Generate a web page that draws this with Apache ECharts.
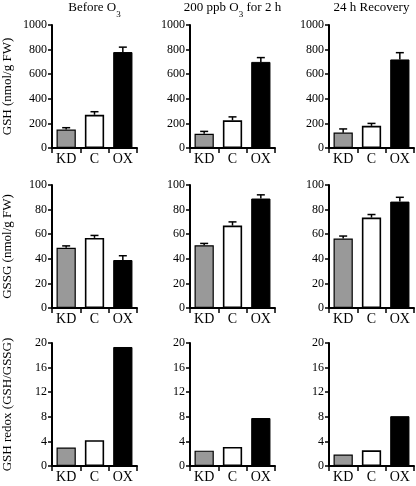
<!DOCTYPE html>
<html>
<head>
<meta charset="utf-8">
<script src="https://cdn.jsdelivr.net/npm/echarts@6/dist/echarts.min.js"></script>
<style>html,body{margin:0;padding:0;background:#fff}#c{width:416px;height:486px}</style>
</head>
<body>
<div id="c"></div>
<script>
// ---- data ----
const categories = ['KD', 'C', 'OX'];
const panelTitles = ['Before O{s|3}', '200 ppb O{s|3} for 2 h', '24 h Recovery'];
const rowNames = ['GSH (nmol/g FW)', 'GSSG (nmol/g FW)', 'GSH redox (GSH/GSSG)'];
// GSH (nmol/g FW), per panel: KD, C, OX
const gshBefore = [150, 270, 780];
const gshOzone = [115, 225, 700];
const gshRecovery = [125, 180, 720];
const gshErrBefore = [15, 25, 40];
const gshErrOzone = [20, 28, 35];
const gshErrRecovery = [30, 20, 55];
// GSSG (nmol/g FW)
const gssgBefore = [49, 57, 39];
const gssgOzone = [51, 67, 89];
const gssgRecovery = [56.5, 73.5, 86.5];
const gssgErrBefore = [1.5, 2, 3.5];
const gssgErrOzone = [1.5, 3, 3];
const gssgErrRecovery = [2, 2.5, 3.5];
// GSH redox (GSH/GSSG)
const redoxBefore = [3.0, 4.2, 19.35];
const redoxOzone = [2.5, 3.1, 7.8];
const redoxRecovery = [1.85, 2.55, 8.1];
// axis ranges
const yMax = [1000, 100, 20];
const yInterval = [200, 20, 4];

const rows = [
  {vals: [gshBefore, gshOzone, gshRecovery], errs: [gshErrBefore, gshErrOzone, gshErrRecovery]},
  {vals: [gssgBefore, gssgOzone, gssgRecovery], errs: [gssgErrBefore, gssgErrOzone, gssgErrRecovery]},
  {vals: [redoxBefore, redoxOzone, redoxRecovery], errs: null}
];

// ---- layout ----
const FONT = 'Liberation Serif';
const gridLeft = [52, 190, 329];
const gridTop = [25, 185, 343];
const gridW = 85, gridH = 123;
const barStyles = [
  {color: '#999999', borderColor: '#000', borderWidth: 1.2},
  {color: '#ffffff', borderColor: '#000', borderWidth: 1.6},
  {color: '#000000', borderColor: '#000', borderWidth: 1}
];

const grids = [], xAxes = [], yAxes = [], series = [], titles = [];
let gi = 0;
for (let r = 0; r < 3; r++) {
  for (let c = 0; c < 3; c++) {
    grids.push({left: gridLeft[c], top: gridTop[r], width: gridW, height: gridH});
    xAxes.push({
      type: 'category', gridIndex: gi, data: categories,
      axisLine: {lineStyle: {color: '#000', width: 2}},
      axisTick: {show: true, length: 5, lineStyle: {color: '#000', width: 1.5}},
      axisLabel: {interval: 0, hideOverlap: false, color: '#000', fontFamily: FONT, fontSize: 14, margin: 4,
        formatter: v => '{t|' + v + '}', rich: {t: {fontFamily: FONT, fontSize: 14, color: '#000'}}}
    });
    yAxes.push({
      type: 'value', gridIndex: gi, min: 0, max: yMax[r], interval: yInterval[r],
      splitLine: {show: false},
      axisLine: {show: true, lineStyle: {color: '#000', width: 2}},
      axisTick: {show: true, length: 4, lineStyle: {color: '#000', width: 1.5}},
      axisLabel: {color: '#000', fontFamily: FONT, fontSize: 12, margin: 5,
        formatter: v => '{t|' + v + '}', rich: {t: {fontFamily: FONT, fontSize: 12, color: '#000'}}},
      name: c === 0 ? rowNames[r] : '',
      nameLocation: 'middle', nameGap: 38,
      nameTextStyle: {color: '#000', fontFamily: FONT, fontSize: 13}
    });
    const vals = rows[r].vals[c];
    series.push({
      type: 'bar', xAxisIndex: gi, yAxisIndex: gi, barWidth: '68%',
      data: vals.map((v, i) => ({value: v, itemStyle: barStyles[i]})),
      silent: true, z: 2
    });
    if (rows[r].errs) {
      const errs = rows[r].errs[c];
      series.push({
        type: 'custom', xAxisIndex: gi, yAxisIndex: gi, z: 3, silent: true,
        data: vals.map((v, i) => [i, v, errs[i]]),
        renderItem: function (params, api) {
          const x = api.value(0), v = api.value(1), e = api.value(2);
          const p0 = api.coord([x, v]);
          const p1 = api.coord([x, v + e]);
          const hw = 4;
          return {
            type: 'group',
            children: [
              {type: 'line', shape: {x1: p0[0], y1: p0[1], x2: p1[0], y2: p1[1]}, style: {stroke: '#000', lineWidth: 1.5}},
              {type: 'line', shape: {x1: p1[0] - hw, y1: p1[1], x2: p1[0] + hw, y2: p1[1]}, style: {stroke: '#000', lineWidth: 1.5}}
            ]
          };
        }
      });
    }
    gi++;
  }
}
for (let c = 0; c < 3; c++) {
  titles.push({
    text: panelTitles[c],
    left: gridLeft[c] + gridW / 2, top: 0, textAlign: 'center',
    padding: 0,
    textStyle: {
      color: '#000', fontFamily: FONT, fontSize: 13, fontWeight: 'normal', lineHeight: 16,
      rich: {s: {fontFamily: FONT, fontSize: 9, color: '#000', verticalAlign: 'bottom', lineHeight: 16, padding: [0, 0, -3, 0]}}
    }
  });
}

const chart = echarts.init(document.getElementById('c'), null, {renderer: 'canvas'});
chart.setOption({
  animation: false,
  backgroundColor: '#fff',
  textStyle: {fontFamily: FONT},
  title: titles,
  grid: grids,
  xAxis: xAxes,
  yAxis: yAxes,
  series: series
});
</script>
</body>
</html>
